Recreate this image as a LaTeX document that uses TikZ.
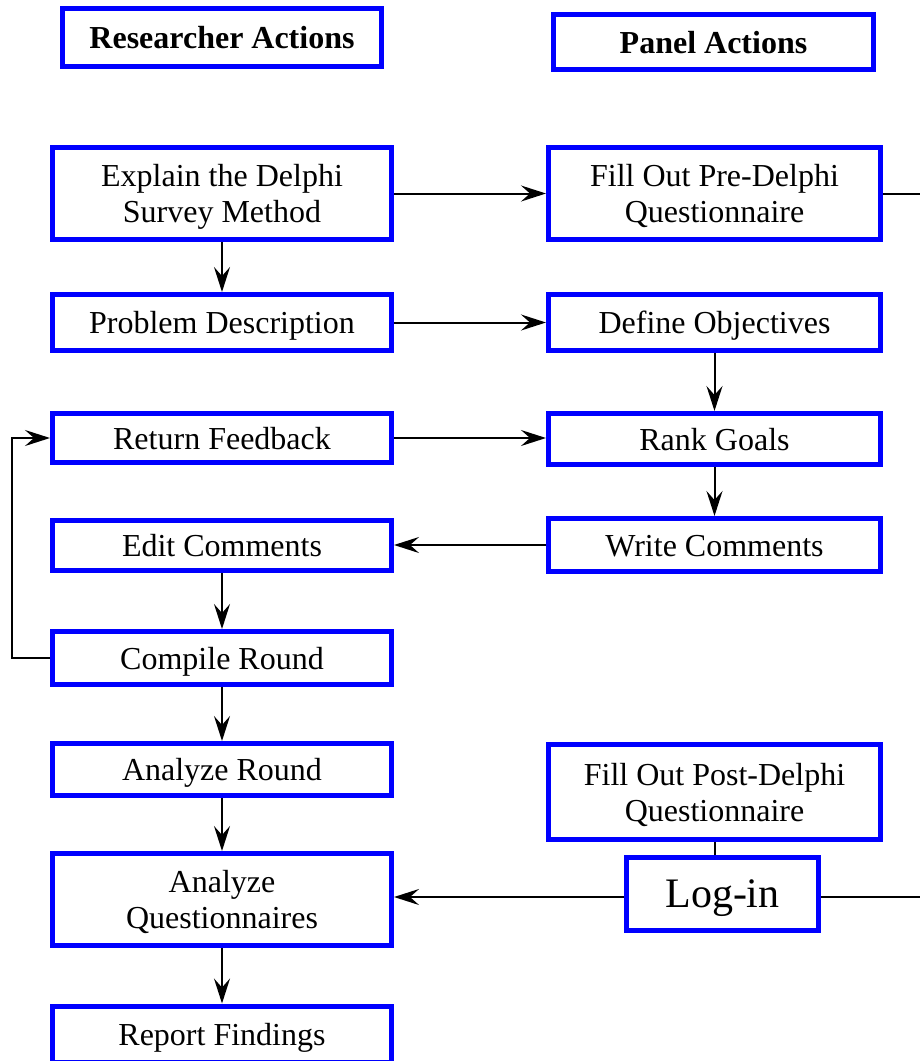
\documentclass[tikz,border=0pt]{standalone}
\usepackage{fontspec}
\setmainfont{Liberation Serif}
\usetikzlibrary{arrows.meta}
\definecolor{boxblue}{RGB}{0,0,255}
% centred text block, set a little below the middle of its box
\newcommand\boxtext[1]{\raisebox{-4pt}[\height][\depth]{\begin{tabular}{@{}c@{}}#1\end{tabular}}}
\tikzset{
  box/.style={draw=boxblue, line width=5pt, fill=white,
    inner sep=0pt, font=\fontsize{32}{36}\selectfont},
  head/.style={box, font=\fontsize{32}{36}\selectfont\bfseries},
  link/.style={line width=2pt, -{Stealth[length=25pt,width=16pt,inset=9pt]}},
  plain/.style={line width=2pt}
}
\begin{document}
\begin{tikzpicture}[x=1pt,y=-1pt]
\useasboundingbox (0,0) rectangle (920,1061);
% column headers
\node[head, minimum width=319, minimum height=58] (res) at (222,37.5) {\boxtext{Researcher Actions}};
\node[head, minimum width=320, minimum height=55] (pan) at (713.5,42) {\boxtext{Panel Actions}};
% researcher column
\node[box, minimum width=339, minimum height=92] (explain) at (222,193.5) {\boxtext{Explain the Delphi\\Survey Method}};
\node[box, minimum width=339, minimum height=56] (prob) at (222,322.5) {\boxtext{Problem Description}};
\node[box, minimum width=339, minimum height=49] (ret) at (222,438) {\boxtext{Return Feedback}};
\node[box, minimum width=339, minimum height=50] (edit) at (222,545.5) {\boxtext{Edit Comments}};
\node[box, minimum width=339, minimum height=53] (compile) at (222,658) {\boxtext{Compile Round}};
\node[box, minimum width=339, minimum height=52] (anr) at (222,769.5) {\boxtext{Analyze Round}};
\node[box, minimum width=339, minimum height=92] (anq) at (222,899.5) {\boxtext{Analyze\\Questionnaires}};
\node[box, minimum width=339, minimum height=56] (report) at (222,1034) {\boxtext{Report Findings}};
% panel column
\node[box, minimum width=332, minimum height=92] (pre) at (714.5,193.5) {\boxtext{Fill Out Pre-Delphi\\Questionnaire}};
\node[box, minimum width=332, minimum height=56] (def) at (714.5,322.5) {\boxtext{Define Objectives}};
\node[box, minimum width=332, minimum height=51] (rank) at (714.5,439) {\boxtext{Rank Goals}};
\node[box, minimum width=332, minimum height=53] (write) at (714.5,545) {\boxtext{Write Comments}};
\node[box, minimum width=332, minimum height=95] (post) at (714.5,792) {\boxtext{Fill Out Post-Delphi\\Questionnaire}};
\node[box, minimum width=192, minimum height=73, font=\fontsize{42}{48}\selectfont] (login) at (722.5,894) {\boxtext{Log-in}};
% free ends leaving the right edge, and the return loop's column
\coordinate (preout) at (920,193.5);
\coordinate (loginout) at (920,897);
\coordinate (loopx) at (12,0);
% connectors
\draw[link] (explain.east) -- (pre.west);
\draw[plain] (pre.east) -- (preout);
\draw[link] (explain) -- (prob);
\draw[link] (prob.east) -- (def.west);
\draw[link] (def) -- (rank);
\draw[link] (ret.east) -- (ret.east -| rank.west);
\draw[link] (rank) -- (write);
\draw[link] (write.west) -- (write.west -| edit.east);
\draw[link] (edit) -- (compile);
\draw[link] (compile.west) -- (compile.west -| loopx) -- (ret.west -| loopx) -- (ret.west);
\draw[link] (compile) -- (anr);
\draw[link] (anr) -- (anq);
\draw[plain] (post.south -| 715,0) -- (login.north -| 715,0);
\draw[link] (login.west |- 0,897) -- (anq.east |- 0,897);
\draw[plain] (login.east |- 0,897) -- (loginout);
\draw[link] (anq) -- (report);
\end{tikzpicture}
\end{document}
